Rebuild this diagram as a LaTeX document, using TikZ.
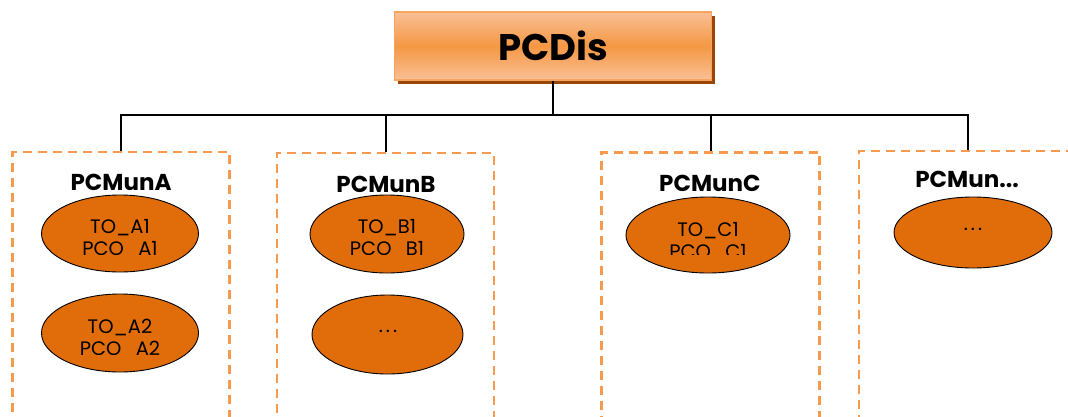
\documentclass[tikz,border=0pt]{standalone}
\usepackage{fontspec}
\setmainfont{Poppins}
\usetikzlibrary{shapes.geometric,shadows}
\definecolor{ofill}{HTML}{E06C0A}
\definecolor{odash}{HTML}{F79A4E}
\definecolor{otop}{HTML}{F9C096}
\definecolor{omid}{HTML}{F59844}
\definecolor{oedge}{HTML}{F7A55E}
\definecolor{oshadow}{HTML}{9A4608}
\newcommand{\spdots}{.\hspace{3pt}.\hspace{3pt}.}
\tikzset{
  conn/.style={line width=2pt, draw=black},
  grp/.style={draw=odash, line width=2.5pt, dash pattern=on 9pt off 6pt, minimum height=320pt, anchor=north, inner sep=0pt},
  grplabel/.style={font=\fontsize{23}{27}\selectfont\bfseries, inner sep=0pt},
  oval/.style={ellipse, draw=black, line width=0.9pt, fill=ofill, inner sep=0pt},
  ovaltext/.style={font=\fontsize{19.5}{22}\selectfont, align=center, inner sep=0pt, text=black},
  topbox/.style={draw=oedge, line width=1.5pt, top color=otop, bottom color=otop, middle color=omid,
     minimum width=317pt, minimum height=68pt, inner sep=0pt,
     drop shadow={shadow xshift=3pt, shadow yshift=-4pt, fill=oshadow, opacity=1},
     font=\fontsize{37}{44}\selectfont\bfseries}
}
\begin{document}
\begin{tikzpicture}[x=1pt,y=-1pt]
\useasboundingbox (0,0) rectangle (1068,416);
\clip (0,0) rectangle (1068,416);
\fill[white] (0,0) rectangle (1068,416);

% top box
\node[topbox] (pcdis) at (553,46) {PCDis};
\coordinate (bus) at (553,115);

% group boxes
\node[grp, minimum width=217pt] (ga) at (121,150.5) {};
\node[grp, minimum width=217pt] (gb) at (385.5,151.5) {};
\node[grp, minimum width=218pt] (gc) at (710.5,151) {};
\node[grp, minimum width=218pt] (gd) at (968,149.5) {};

% connectors
\draw[conn] (pcdis.south) -- (bus);
\draw[conn] (ga.north) -- (ga.north |- bus) -- (gd.north |- bus) -- (gd.north);
\draw[conn] (gb.north) -- (gb.north |- bus);
\draw[conn] (gc.north) -- (gc.north |- bus);

% group labels
\node[grplabel] (la) at (121,182) {PCMunA};
\node[grplabel] (lb) at (386,184) {PCMunB};
\node[grplabel] (lc) at (710,183) {PCMunC};
\node[grplabel] (ld) at (967,179) {PCMun...};

% ovals
\node[oval, minimum width=157pt, minimum height=77pt] (a1) at (120,233.5) {};
\node[oval, minimum width=157pt, minimum height=78pt] (a2) at (120,333) {};
\node[oval, minimum width=154pt, minimum height=78pt] (b1) at (387,234) {};
\node[oval, minimum width=151pt, minimum height=79pt] (b2) at (387.5,334.5) {};
\node[oval, minimum width=164pt, minimum height=76pt] (c1) at (708,235) {};
\node[oval, minimum width=158pt, minimum height=71pt] (d1) at (973,232.5) {};

% oval texts (clipped as in the original)
\begin{scope}
\clip (40,195) rectangle (200,254.5);
\node[ovaltext] (a1t) at (120,238.5) {TO\_A1\\PCO\_A1};
\end{scope}
\begin{scope}
\clip (40,294) rectangle (200,354.3);
\node[ovaltext] (a2t) at (120,338.5) {TO\_A2\\PCO\_A2};
\end{scope}
\begin{scope}
\clip (310,195) rectangle (465,254.5);
\node[ovaltext] (b1t) at (387,238.5) {TO\_B1\\PCO\_B1};
\end{scope}
\node[ovaltext] (b2t) at (388,331) {\spdots};
\begin{scope}
\clip (626,197) rectangle (790,254);
\node[ovaltext] (c1t) at (708,242) {TO\_C1\\PCO\_C1};
\end{scope}
\node[ovaltext] (d1t) at (973,229) {\spdots};
\end{tikzpicture}
\end{document}
